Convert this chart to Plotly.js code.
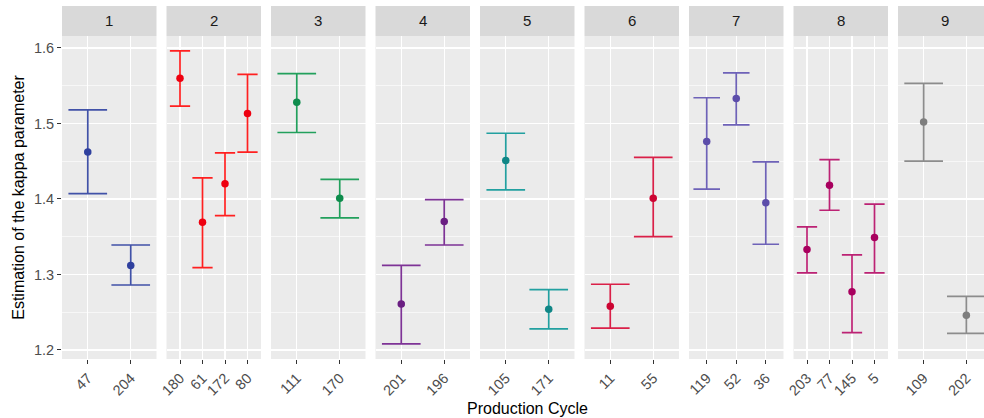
<!DOCTYPE html>
<html><head><meta charset="utf-8">
<script src="https://cdn.plot.ly/plotly-3.0.1.min.js"></script>
<style>html,body{margin:0;padding:0;overflow:hidden;background:#fff;width:984px;height:418px}#chart{width:1000px;height:418px}</style>
</head><body><div id="chart"></div><script>
// ---- data ----
const panelLabels = ['1','2','3','4','5','6','7','8','9'];
const cycles = [
  ['47','204'],
  ['180','61','172','80'],
  ['111','170'],
  ['201','196'],
  ['105','171'],
  ['11','55'],
  ['119','52','36'],
  ['203','77','145','5'],
  ['109','202']
];
const estimates = [
  [1.462,1.312],
  [1.560,1.369,1.420,1.513],
  [1.528,1.401],
  [1.261,1.370],
  [1.451,1.254],
  [1.258,1.401],
  [1.476,1.533,1.395],
  [1.333,1.418,1.277,1.349],
  [1.502,1.246]
];
const lowerCI = [
  [1.407,1.286],
  [1.523,1.309,1.378,1.462],
  [1.488,1.375],
  [1.208,1.339],
  [1.412,1.228],
  [1.229,1.350],
  [1.413,1.498,1.340],
  [1.302,1.385,1.223,1.302],
  [1.450,1.222]
];
const upperCI = [
  [1.518,1.339],
  [1.596,1.428,1.461,1.565],
  [1.566,1.426],
  [1.312,1.399],
  [1.487,1.280],
  [1.287,1.455],
  [1.534,1.567,1.449],
  [1.363,1.452,1.326,1.393],
  [1.553,1.271]
];
const pointColors = ['#2F409E','#EE0010','#0E8C4C','#6A1E82','#108686','#CC0432','#5C4DAA','#A8005E','#7E7E7E'];
const barColors   = ['#4152A8','#FF2020','#22A05C','#7E3396','#22A0A0','#DA2048','#6E62B8','#BC2274','#8C8C8C'];

// ---- layout geometry ----
const W = 1000, H = 418, ML = 62, MR = 8, MT = 36, MB = 59;
const plotW = W - ML - MR;
const panelW = 94.5, pitch = 104.5;
const yRange = [1.188, 1.6158];
const font = 'Liberation Sans, Arial, sans-serif';

const traces = [];
const layout = {
  width: W, height: H,
  margin: {l: ML, r: MR, t: MT, b: MB},
  paper_bgcolor: '#ffffff',
  plot_bgcolor: '#EBEBEB',
  showlegend: false,
  font: {family: font, color: '#4D4D4D', size: 14},
  shapes: [], annotations: []
};

panelLabels.forEach((lab, i) => {
  const n = cycles[i].length;
  const sfx = i === 0 ? '' : String(i + 1);
  const x0 = (i * pitch) / plotW, x1 = (i * pitch + panelW) / plotW;
  const pxPerUnit = panelW / (n + 0.2);
  traces.push({
    type: 'scatter', mode: 'markers',
    x: cycles[i], y: estimates[i],
    xaxis: 'x' + sfx, yaxis: 'y' + sfx,
    marker: {color: pointColors[i], size: 7.5},
    error_y: {
      type: 'data', symmetric: false,
      array: upperCI[i].map((u, k) => u - estimates[i][k]),
      arrayminus: lowerCI[i].map((l, k) => estimates[i][k] - l),
      color: barColors[i], thickness: 1.7, width: 0.45 * pxPerUnit
    },
    hoverinfo: 'x+y'
  });
  layout['xaxis' + sfx] = {
    domain: [x0, Math.min(x1, 1)], anchor: 'y' + sfx,
    type: 'category', categoryorder: 'array', categoryarray: cycles[i],
    range: [-0.6, n - 0.4],
    showgrid: true, gridcolor: '#ffffff', gridwidth: 1.4,
    zeroline: false, showline: false,
    ticks: 'outside', ticklen: 4, tickwidth: 1, tickcolor: '#333333',
    tickangle: -45, tickfont: {family: font, size: 14.5, color: '#4D4D4D'},
    fixedrange: true
  };
  layout['yaxis' + sfx] = {
    domain: [0, 1], anchor: 'x' + sfx,
    range: yRange, dtick: 0.1, tick0: 0,
    showgrid: true, gridcolor: '#ffffff', gridwidth: 1.4,
    minor: {dtick: 0.05, tick0: 0, showgrid: true, gridcolor: '#ffffff', gridwidth: 0.6},
    zeroline: false, showline: false,
    showticklabels: i === 0,
    ticks: i === 0 ? 'outside' : '', ticklen: 4, tickwidth: 1, tickcolor: '#333333',
    tickfont: {family: font, size: 14.5, color: '#4D4D4D'},
    fixedrange: true
  };
  if (i === 0) {
    layout.yaxis.title = {text: 'Estimation of the kappa parameter', font: {family: font, size: 16, color: '#000000'}, standoff: 5};
  }
  // facet strip
  layout.shapes.push({
    type: 'rect', xref: 'x' + sfx + ' domain', yref: 'paper',
    x0: 0, x1: 1, y0: 1, y1: 1 + 30 / (H - MT - MB),
    fillcolor: '#D9D9D9', line: {width: 0}, layer: 'below'
  });
  layout.annotations.push({
    text: lab, xref: 'x' + sfx + ' domain', yref: 'paper',
    x: 0.5, y: 1 + 15 / (H - MT - MB), xanchor: 'center', yanchor: 'middle',
    showarrow: false, font: {family: font, size: 15, color: '#1A1A1A'}
  });
});

// x-axis title spanning all panels
layout.annotations.push({
  text: 'Production Cycle', xref: 'paper', yref: 'paper',
  x: (8 * pitch + panelW) / 2 / plotW, y: 0, xanchor: 'center', yanchor: 'top', yshift: -39,
  showarrow: false, font: {family: font, size: 16, color: '#000000'}
});

Plotly.newPlot('chart', traces, layout, {displayModeBar: false, staticPlot: true});
</script></body></html>
